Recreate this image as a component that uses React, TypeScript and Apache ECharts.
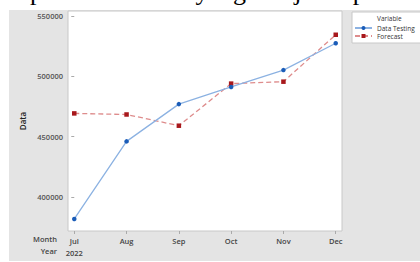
import React, { useEffect, useRef } from "react";
import * as echarts from "echarts";

const months = ["Jul", "Aug", "Sep", "Oct", "Nov", "Dec"];
const yearLabel = "2022";
const dataTesting = [381800, 446100, 477000, 491200, 505200, 527500];
const forecast = [469300, 468400, 459100, 494000, 495600, 534500];
const yTicks = [400000, 450000, 500000, 550000];
const seriesNames = ["Data Testing", "Forecast"];

const FONT = "'Open Sans', 'Noto Sans', sans-serif";

export default function App() {
  const ref = useRef<HTMLDivElement>(null);
  useEffect(() => {
    if (!ref.current) return;
    const chart = echarts.init(ref.current, undefined, { renderer: "svg" });
    const idx = months.map((_, i) => i);
    chart.setOption({
      animation: false,
      backgroundColor: "#fff",
      graphic: [
        { type: "rect", z: -10, shape: { x: 9, y: 10, width: 411, height: 251 }, style: { fill: "#e4e4e4" } },
        { type: "rect", z: 5, shape: { x: 352, y: 12, width: 80, height: 31 }, style: { fill: "#fff", stroke: "#c8c8c8", lineWidth: 1 } },
        { type: "text", z: 6, x: 377, y: 18, style: { text: "Variable", font: "6.5px " + FONT, fill: "#333", verticalAlign: "middle" } },
        { type: "text", x: 57, y: 239, style: { text: "Month", font: "600 7.5px " + FONT, fill: "#444", align: "right", verticalAlign: "middle" } },
        { type: "text", x: 57, y: 251, style: { text: "Year", font: "600 7.5px " + FONT, fill: "#444", align: "right", verticalAlign: "middle" } },
        {
          type: "text",
          x: -1,
          y: -9,
          style: {
            text: "{a|an plot }{b|time series}{a| yang disajikan pada}",
            verticalAlign: "middle",
            rich: {
              a: { font: "26px 'Liberation Serif', serif", fill: "#000" },
              b: { font: "italic 26px 'Liberation Serif', serif", fill: "#000" },
            },
          },
        },
      ],
      grid: {
        left: 68,
        right: 78,
        top: 11,
        bottom: 31,
        show: true,
        backgroundColor: "#fff",
        borderColor: "#c8c8c8",
        borderWidth: 1,
      },
      legend: {
        orient: "vertical",
        left: 354,
        top: 24,
        itemWidth: 17,
        itemHeight: 5,
        itemGap: 0,
        z: 10,
        padding: 0,
        data: seriesNames,
        textStyle: { fontSize: 6.5, fontFamily: FONT, color: "#333", lineHeight: 8 },
      },
      xAxis: {
        type: "value",
        min: -0.12,
        max: 5.12,
        splitLine: { show: false },
        axisLine: { show: false },
        axisTick: { show: true, customValues: idx, length: 3, lineStyle: { color: "#aaa" } },
        axisLabel: {
          customValues: idx,
          margin: 4,
          fontSize: 7.5,
          fontWeight: 600,
          fontFamily: FONT,
          color: "#444",
          lineHeight: 12,
          formatter: (v: number) => {
            const i = Math.round(v);
            return i === 0 ? months[i] + "\n" + yearLabel : months[i];
          },
        },
      },
      yAxis: {
        type: "value",
        min: 371800,
        max: 554200,
        name: "Data",
        nameLocation: "middle",
        nameGap: 39,
        nameTextStyle: { fontSize: 8, fontWeight: 600, fontFamily: FONT, color: "#222" },
        splitLine: { show: false },
        axisLine: { show: false },
        axisTick: { show: true, customValues: yTicks, length: 3, lineStyle: { color: "#aaa" } },
        axisLabel: {
          customValues: yTicks,
          margin: 5,
          fontSize: 7.5,
          fontWeight: 600,
          fontFamily: FONT,
          color: "#555",
          formatter: (v: number) => String(Math.round(v)),
        },
      },
      series: [
        {
          name: seriesNames[0],
          type: "line",
          data: dataTesting.map((v, i) => [i, v]),
          symbol: "circle",
          symbolSize: 4.5,
          lineStyle: { color: "#8cb2e2", width: 1.3 },
          itemStyle: { color: "#1a5cb8" },
          z: 3,
        },
        {
          name: seriesNames[1],
          type: "line",
          data: forecast.map((v, i) => [i, v]),
          symbol: "rect",
          symbolSize: 4.5,
          lineStyle: { color: "#de8c8c", width: 1.3, type: [5, 3] },
          itemStyle: { color: "#a8181c" },
          z: 2,
        },
      ],
    });
    return () => chart.dispose();
  }, []);
  return <div ref={ref} style={{ position: "absolute", left: 0, top: 0, width: 420, height: 262 }} />;
}
